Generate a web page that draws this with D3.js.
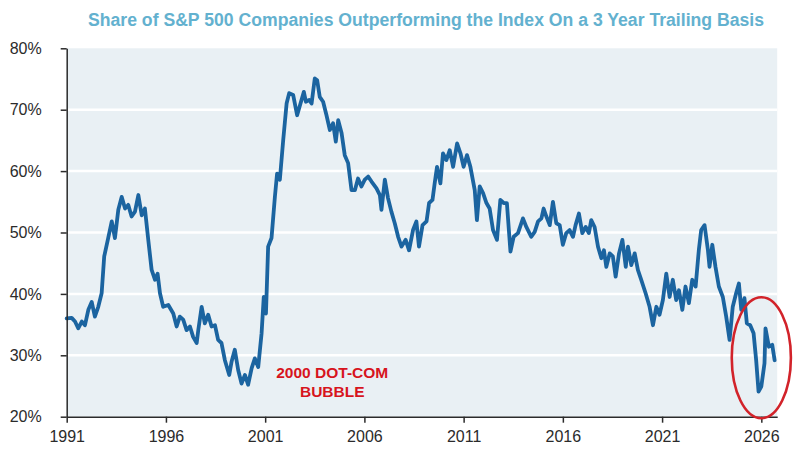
<!DOCTYPE html>
<html>
<head>
<meta charset="utf-8">
<script src="https://cdn.jsdelivr.net/npm/d3@7"></script>
<style>
  html, body { margin: 0; padding: 0; background: #fff; }
  svg { display: block; }
  .axis text { font-family: "Liberation Sans", Arial, sans-serif; font-size: 16px; fill: #2b2b2b; }
  .axis path, .axis line { stroke: #2b2b2b; stroke-width: 1.5; }
</style>
</head>
<body>
<div id="chart"></div>
<script>
const title = 'Share of S&P 500 Companies Outperforming the Index On a 3 Year Trailing Basis';

// decimal year / share of companies beating the index (%)
const years = [
  1991.00, 1991.25, 1991.42, 1991.58, 1991.76, 1991.92, 1992.09, 1992.26, 1992.42, 1992.59,
  1992.76, 1992.89, 1993.09, 1993.27, 1993.43, 1993.60, 1993.77, 1993.94, 1994.10, 1994.27,
  1994.44, 1994.61, 1994.78, 1994.94, 1995.11, 1995.28, 1995.45, 1995.58, 1995.70, 1995.86,
  1996.12, 1996.37, 1996.54, 1996.70, 1996.87, 1997.04, 1997.21, 1997.37, 1997.55, 1997.63,
  1997.80, 1997.96, 1998.13, 1998.30, 1998.47, 1998.63, 1998.80, 1998.97, 1999.19, 1999.31,
  1999.47, 1999.64, 1999.81, 1999.98, 2000.14, 2000.32, 2000.48, 2000.65, 2000.82, 2000.93,
  2001.04, 2001.15, 2001.32, 2001.49, 2001.60, 2001.74, 2001.91, 2002.08, 2002.21, 2002.41,
  2002.61, 2002.78, 2002.95, 2003.05, 2003.22, 2003.34, 2003.50, 2003.62, 2003.75, 2003.92,
  2004.09, 2004.26, 2004.42, 2004.56, 2004.68, 2004.85, 2005.01, 2005.18, 2005.35, 2005.52,
  2005.68, 2005.85, 2006.02, 2006.19, 2006.36, 2006.61, 2006.78, 2006.86, 2007.03, 2007.19,
  2007.36, 2007.53, 2007.70, 2007.87, 2008.08, 2008.25, 2008.45, 2008.62, 2008.75, 2008.93,
  2009.13, 2009.26, 2009.43, 2009.54, 2009.66, 2009.83, 2009.96, 2010.13, 2010.30, 2010.47,
  2010.67, 2010.84, 2011.00, 2011.17, 2011.34, 2011.56, 2011.67, 2011.81, 2011.98, 2012.15,
  2012.31, 2012.48, 2012.68, 2012.85, 2013.02, 2013.18, 2013.36, 2013.52, 2013.74, 2013.99,
  2014.16, 2014.41, 2014.58, 2014.75, 2014.92, 2015.03, 2015.17, 2015.34, 2015.50, 2015.67,
  2015.84, 2016.00, 2016.17, 2016.34, 2016.51, 2016.64, 2016.81, 2016.98, 2017.15, 2017.31,
  2017.43, 2017.60, 2017.77, 2017.94, 2018.07, 2018.19, 2018.36, 2018.52, 2018.66, 2018.83,
  2019.00, 2019.17, 2019.28, 2019.45, 2019.62, 2019.78, 2019.95, 2020.17, 2020.37, 2020.54,
  2020.71, 2020.87, 2021.04, 2021.21, 2021.38, 2021.54, 2021.71, 2021.85, 2022.02, 2022.18,
  2022.35, 2022.52, 2022.69, 2022.85, 2022.97, 2023.14, 2023.31, 2023.39, 2023.53, 2023.69,
  2023.86, 2024.06, 2024.23, 2024.40, 2024.56, 2024.73, 2024.87, 2024.99, 2025.15, 2025.27,
  2025.44, 2025.61, 2025.74, 2025.86, 2026.00, 2026.16, 2026.21, 2026.38, 2026.55, 2026.67
];

const shares = [
  36.0, 36.1, 35.5, 34.4, 35.5, 34.9, 37.4, 38.7, 36.3, 37.9,
  40.1, 46.1, 49.1, 51.8, 49.1, 53.7, 55.8, 53.9, 54.5, 52.6,
  53.4, 56.1, 52.8, 53.9, 48.8, 43.9, 42.3, 43.3, 40.1, 37.9,
  38.2, 36.8, 34.7, 36.3, 35.8, 34.1, 34.7, 33.0, 32.0, 34.1,
  37.9, 35.2, 36.6, 34.7, 34.9, 32.5, 32.0, 29.2, 26.8, 29.0,
  30.9, 27.6, 25.4, 26.8, 25.2, 27.9, 29.5, 28.1, 33.6, 39.5,
  36.8, 47.7, 49.1, 55.8, 59.6, 58.6, 65.1, 71.0, 72.7, 72.4,
  69.1, 71.0, 72.9, 71.3, 71.6, 71.0, 75.1, 74.8, 72.1, 71.3,
  69.1, 66.7, 67.8, 64.8, 68.3, 66.2, 62.6, 61.3, 56.9, 56.9,
  58.8, 57.5, 58.6, 59.1, 58.3, 57.2, 56.1, 53.7, 58.6, 55.6,
  53.4, 51.5, 49.3, 47.7, 48.8, 47.1, 50.4, 51.8, 47.7, 51.2,
  51.8, 54.8, 55.3, 58.0, 60.7, 58.0, 62.9, 61.8, 63.4, 60.7,
  64.5, 62.9, 60.7, 62.6, 60.7, 56.9, 52.0, 57.5, 56.4, 54.8,
  53.9, 50.4, 48.8, 55.3, 54.8, 54.8, 46.9, 49.3, 49.9, 52.3,
  50.9, 49.3, 50.1, 51.8, 52.3, 53.9, 52.6, 51.2, 55.0, 51.5,
  51.2, 48.0, 49.9, 50.4, 49.3, 51.2, 53.1, 49.9, 50.9, 49.9,
  52.0, 50.9, 47.7, 45.8, 47.1, 44.4, 46.6, 46.1, 42.8, 46.6,
  48.8, 44.4, 47.7, 44.7, 46.6, 43.9, 42.3, 40.1, 37.9, 34.9,
  37.9, 36.6, 39.0, 43.3, 39.5, 42.3, 39.0, 40.6, 37.4, 41.2,
  38.5, 42.3, 41.2, 47.1, 50.4, 51.2, 47.1, 44.4, 48.0, 44.4,
  41.2, 39.5, 36.3, 32.5, 37.9, 40.1, 41.7, 37.4, 39.3, 35.2,
  34.9, 33.6, 29.2, 24.1, 24.9, 28.7, 34.4, 31.4, 31.7, 29.2
];

const yTicks = [20, 30, 40, 50, 60, 70, 80];
const xTicks = [1991, 1996, 2001, 2006, 2011, 2016, 2021, 2026];

const noteLines = ['2000 DOT-COM', 'BUBBLE'];
const noteAt = { year: 2004.38, value: 26.3 };
const circleAt = { year: 2026.0, value: 29.6, dYear: 1.49, dValue: 9.85 };

const W = 800, H = 461;
const margin = { top: 48.3, right: 22.8, bottom: 44.3, left: 66.7 };

const svg = d3.select('#chart')
  .append('svg')
  .attr('width', W)
  .attr('height', H);

const x = d3.scaleLinear()
  .domain([1991, 2026.8])
  .range([margin.left, W - margin.right]);

const y = d3.scaleLinear()
  .domain([20, 80])
  .range([H - margin.bottom, margin.top]);

svg.append('text')
  .attr('x', 426)
  .attr('y', 26)
  .attr('text-anchor', 'middle')
  .attr('font-family', '"Liberation Sans Narrow", "Arial Narrow", "Liberation Sans", sans-serif')
  .attr('font-size', 18)
  .attr('font-weight', 700)
  .attr('fill', '#63b1cf')
  .attr('textLength', 676)
  .attr('lengthAdjust', 'spacingAndGlyphs')
  .text(title);

// plot background
svg.append('rect')
  .attr('x', x.range()[0])
  .attr('y', y(80))
  .attr('width', x.range()[1] - x.range()[0])
  .attr('height', y(20) - y(80))
  .attr('fill', '#e9f0f4');

svg.append('g')
  .selectAll('line')
  .data(yTicks.filter(d => d > 20 && d < 80))
  .join('line')
  .attr('x1', x.range()[0])
  .attr('x2', x.range()[1])
  .attr('y1', d => y(d))
  .attr('y2', d => y(d))
  .attr('stroke', '#ffffff')
  .attr('stroke-width', 2.5);

const data = years.map((yr, i) => ({ year: yr, value: shares[i] }));

const line = d3.line()
  .x(d => x(d.year))
  .y(d => y(d.value));

svg.append('path')
  .datum(data)
  .attr('d', line)
  .attr('fill', 'none')
  .attr('stroke', '#1b64a0')
  .attr('stroke-width', 3.8)
  .attr('stroke-linejoin', 'round')
  .attr('stroke-linecap', 'round');

svg.append('g')
  .attr('class', 'axis')
  .attr('transform', `translate(${margin.left},0)`)
  .call(d3.axisLeft(y).tickValues(yTicks).tickSize(6).tickSizeOuter(0).tickPadding(19).tickFormat(d => d + '%'));

svg.append('g')
  .attr('class', 'axis')
  .attr('transform', `translate(0,${H - margin.bottom})`)
  .call(d3.axisBottom(x).tickValues(xTicks).tickSize(6).tickSizeOuter(0).tickPadding(8).tickFormat(d => String(d)));

svg.append('text')
  .attr('x', x(noteAt.year))
  .attr('y', y(noteAt.value))
  .attr('text-anchor', 'middle')
  .attr('font-family', '"Liberation Sans", Arial, sans-serif')
  .attr('font-size', 15.5)
  .attr('font-weight', 700)
  .attr('fill', '#d7141d')
  .selectAll('tspan')
  .data(noteLines)
  .join('tspan')
  .attr('x', x(noteAt.year))
  .attr('dy', (d, i) => i === 0 ? 0 : 19)
  .text(d => d);

svg.append('ellipse')
  .attr('cx', x(circleAt.year))
  .attr('cy', y(circleAt.value))
  .attr('rx', x(circleAt.year + circleAt.dYear) - x(circleAt.year))
  .attr('ry', y(circleAt.value - circleAt.dValue) - y(circleAt.value))
  .attr('fill', 'none')
  .attr('stroke', '#d2232a')
  .attr('stroke-width', 2.6);
</script>
</body>
</html>
